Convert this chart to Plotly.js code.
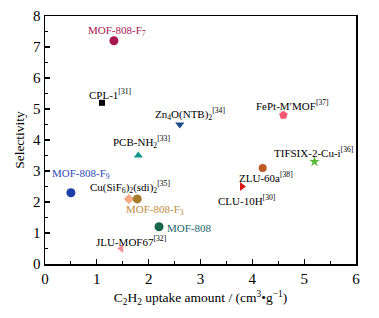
<!DOCTYPE html>
<html><head><meta charset="utf-8">
<script src="https://cdn.plot.ly/plotly-3.0.1.min.js"></script>
<style>html,body{margin:0;padding:0;background:#fff}#c{width:379px;height:318px}</style>
</head><body><div id="c"></div>
<script>
var names = ["MOF-808-F<sub>7</sub>","CPL-1<sup>[31]</sup>","Zn<sub>4</sub>O(NTB)<sub>2</sub><sup>[34]</sup>","PCB-NH<sub>2</sub><sup>[33]</sup>","FePt-M\u2032MOF<sup>[37]</sup>","TIFSIX-2-Cu-i<sup>[36]</sup>","ZLU-60a<sup>[38]</sup>","CLU-10H<sup>[30]</sup>","MOF-808-F<sub>9</sub>","Cu(SiF<sub>6</sub>)<sub>2</sub>(sdi)<sub>2</sub><sup>[35]</sup>","MOF-808-F<sub>3</sub>","MOF-808","JLU-MOF67<sup>[32]</sup>"];
var uptake = [1.33, 1.1, 2.6, 1.8, 4.6, 5.2, 4.2, 3.8, 0.5, 1.62, 1.78, 2.2, 1.47];
var selectivity = [7.2, 5.2, 4.5, 3.5, 4.8, 3.3, 3.1, 2.5, 2.3, 2.1, 2.1, 1.2, 0.5];
var colors = ["#a8174f","#000000","#1a4a88","#12958a","#f25a74","#5cba3a","#bd5a25","#dc1414","#1f3fa8","#f8aa80","#a87a2c","#17654a","#f5909a"];
var symbols = ["circle","square","triangle-down","triangle-up","pentagon","star","circle","triangle-right","circle","diamond","circle","circle","triangle-left"];
var sizes = [9,6,8,8,9,8,8,8,9,8,9,9,8];
var labelColors = ["#a8174f","#000","#000","#000","#000","#000","#000","#000","#3048b5","#000","#c08a40","#206565","#000"];
var labelDx = [3,8,10,3,9,-1,3,5,10,1,18,6,10];
var labelDy = [10,9,11,14,10,10,-9,-13,19,12,-11,-1,8];
var labelAnchor = ["center","center","center","center","center","center","center","center","center","center","center","left","center"];

var serif = "Liberation Serif";
var ann = names.map(function(n,i){
  return {x: uptake[i], y: selectivity[i], xref:"x", yref:"y", text: n, showarrow:false,
    xanchor: labelAnchor[i], yanchor:"middle", xshift: labelDx[i], yshift: labelDy[i],
    font:{family:serif, size:11, color: labelColors[i]}};
});

var trace = {x: uptake, y: selectivity, mode:"markers", type:"scatter",
  marker:{color: colors, symbol: symbols, size: sizes, opacity:1, line:{width:0}}, hoverinfo:"none"};

var axisCommon = {showline:true, linecolor:"#000", linewidth:1.5, mirror:true, ticks:"inside",
  ticklen:5, tickwidth:1.2, tickcolor:"#000", showgrid:false, zeroline:false,
  tickfont:{family:serif, size:15, color:"#000"}};

var layout = {
  width:379, height:318, margin:{l:45, r:23, t:16, b:54},
  paper_bgcolor:"#fff", plot_bgcolor:"#fff", showlegend:false,
  font:{family:serif},
  xaxis: Object.assign({}, axisCommon, {range:[0,6], dtick:1, tick0:0,
    minor:{dtick:0.5, ticks:"inside", ticklen:3, tickwidth:1, tickcolor:"#000", showgrid:false},
    title:{text:"C<sub>2</sub>H<sub>2</sub> uptake amount / (cm<sup>3</sup>\u2022g<sup>\u22121</sup>)", font:{family:serif, size:13.5, color:"#000"}, standoff:7}}),
  yaxis: Object.assign({}, axisCommon, {range:[0,8], dtick:1, tick0:0,
    minor:{dtick:0.5, ticks:"inside", ticklen:3, tickwidth:1, tickcolor:"#000", showgrid:false},
    title:{text:"Selectivity", font:{family:serif, size:13.5, color:"#000"}, standoff:5}}),
  annotations: ann
};
Plotly.newPlot("c", [trace], layout, {displayModeBar:false, staticPlot:true});
</script></body></html>
